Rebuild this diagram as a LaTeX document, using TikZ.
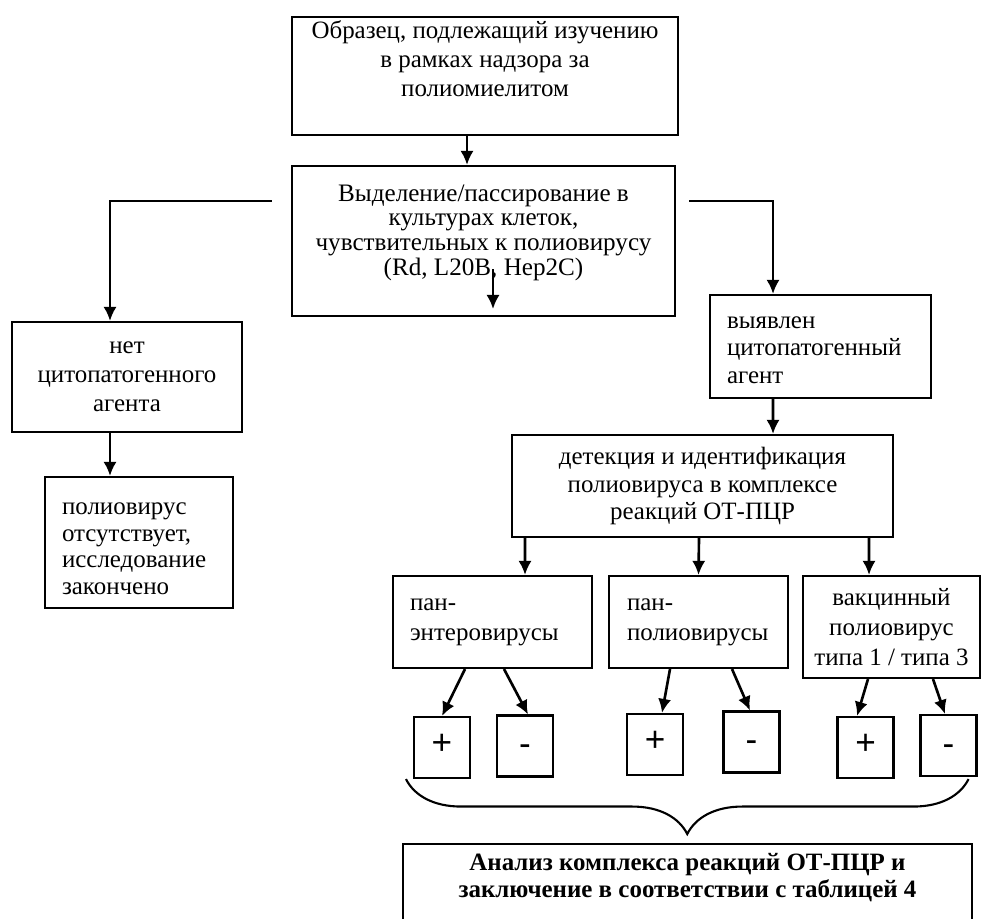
\documentclass[tikz,border=0pt]{standalone}
\usepackage{fontspec}
\setmainfont{Liberation Serif}
\newfontfamily\signfont{Liberation Sans}
\usetikzlibrary{calc}
\usetikzlibrary{arrows.meta}
\usetikzlibrary{decorations.pathreplacing}
\tikzset{>={Latex[length=8pt,width=7.5pt]}}
\tikzstyle{blk} = [rectangle, draw=black, line width=1.2pt, inner sep=0pt, align=center, font=\fontsize{14.2}{16.5}\selectfont]
\tikzstyle{blkl} = [blk, align=left, inner xsep=0.34cm]
\tikzstyle{sgn} = [rectangle, draw=black, line width=1.2pt, minimum width=1.12cm, minimum height=1.22cm, inner sep=0pt, text height=0.8em, text depth=0pt, font=\signfont\fontsize{20}{20}\selectfont]
\tikzstyle{msgn} = [sgn, text height=1.1em]
\tikzstyle{arr} = [->, line width=1.5pt]

\begin{document}
\begin{tikzpicture}[x=0.02cm, y=-0.02cm]
\clip (0, 0) rectangle (982, 918);
\node [blk, minimum width=7.72cm, minimum height=2.36cm, text depth=20pt] (A) at (485, 76) {Образец, подлежащий изучению\\в рамках надзора за\\полиомиелитом};
\node [blk, minimum width=7.66cm, minimum height=3.0cm, text depth=12.5pt, font=\fontsize{14.3}{14}\selectfont] (B) at (483.5, 241) {Выделение/пассирование в\\культурах клеток,\\чувствительных к полиовирусу\\(Rd, L20B, Hep2C)};
\node [blk, minimum width=4.6cm, minimum height=2.2cm] (C) at (127, 377) {нет\\цитопатогенного\\агента};
\node [blkl, text width=3.08cm, minimum height=2.62cm, text height=10pt, text depth=42pt, font=\fontsize{14.2}{15.2}\selectfont] (E) at (139, 542.5) {полиовирус\\отсутствует,\\исследование\\закончено};
\node [blkl, text width=3.74cm, minimum height=2.06cm, text height=10pt, text depth=31pt, font=\fontsize{14.2}{15.9}\selectfont] (D) at (820.5, 346.5) {выявлен\\цитопатогенный\\агент};
\node [blk, minimum width=7.62cm, minimum height=2.04cm, font=\fontsize{14.2}{15.9}\selectfont] (F) at (702.5, 486) {детекция и идентификация\\полиовируса в комплексе\\реакций ОТ-ПЦР};
\node [blkl, text width=3.3cm, minimum height=1.84cm, font=\fontsize{14.2}{17}\selectfont] (G1) at (492.5, 622) {пан-\\энтеровирусы};
\node [blkl, inner xsep=0.36cm, text width=2.86cm, minimum height=1.84cm, font=\fontsize{14.2}{17}\selectfont] (G2) at (698.5, 622) {пан-\\полиовирусы};
\node [blk, minimum width=3.54cm, minimum height=2.04cm, font=\fontsize{14.2}{17}\selectfont] (G3) at (891.5, 627) {вакцинный\\полиовирус\\типа 1 / типа 3};
\node [sgn] (P1) at (442, 747.5) {+};
\node [msgn] (M1) at (525, 746) {-};
\node [sgn] (P2) at (655, 744.5) {+};
\node [msgn] (M2) at (751.5, 742) {-};
\node [sgn] (P3) at (865.5, 747.5) {+};
\node [msgn] (M3) at (948.5, 745.5) {-};
\node [blk, anchor=north, minimum width=11.38cm, minimum height=1.74cm, text depth=13.5pt, font=\bfseries\fontsize{14.2}{15.3}\selectfont] (H) at (687.5, 843) {Анализ комплекса реакций ОТ-ПЦР и\\заключение в соответствии с таблицей 4};

% main flow
\draw [arr] ($(A.south)+(-18,0)$) -- ($(B.north)+(-16.5,0)$);
\draw [arr] ($(B.north west)+(-19,36)$) -| ($(C.north)+(-17,0)$);
\draw [arr] ($(B.north east)+(13,36)$) -| ($(D.north)+(-47.5,0)$);
\draw [arr] ($(B.south)+(9.5,-48)$) -- ($(B.south)+(9.5,-8)$);
\draw [arr] ($(C.south)+(-17,0)$) -- ($(E.north)+(-29,0)$);
\draw [arr] ($(D.south)+(-47.5,0)$) -- ($(F.north)+(70.5,0)$);
\draw [arr] ($(F.south)+(-177.5,0)$) -- ($(G1.north)+(32.5,0)$);
\draw [arr] ($(F.south)+(-3.5,0)$) -- (G2.north);
\draw [arr] ($(F.south)+(166.5,0)$) -- ($(G3.north)+(-22.5,0)$);

% +/- results
\draw [arr] ($(G1.south)+(-27.5,0)$) -- (P1.north);
\draw [arr] ($(G1.south)+(11.5,0)$) -- ($(M1.north)+(3,0)$);
\draw [arr] ($(G2.south)+(-28.5,0)$) -- ($(P2.north)+(7,0)$);
\draw [arr] ($(G2.south)+(33.5,0)$) -- ($(M2.north)+(-1.5,0)$);
\draw [arr] ($(G3.south)+(-23.5,0)$) -- ($(P3.north)+(-8.5,0)$);
\draw [arr] ($(G3.south)+(41.5,0)$) -- ($(M3.north)+(-3.5,0)$);

\draw [decorate, decoration={brace, mirror, amplitude=1.1cm}, line width=1.2pt] ($(P1.south west)+(-7,0)$) -- ($(M3.south east)+(-9,2)$);
\end{tikzpicture}
\end{document}
